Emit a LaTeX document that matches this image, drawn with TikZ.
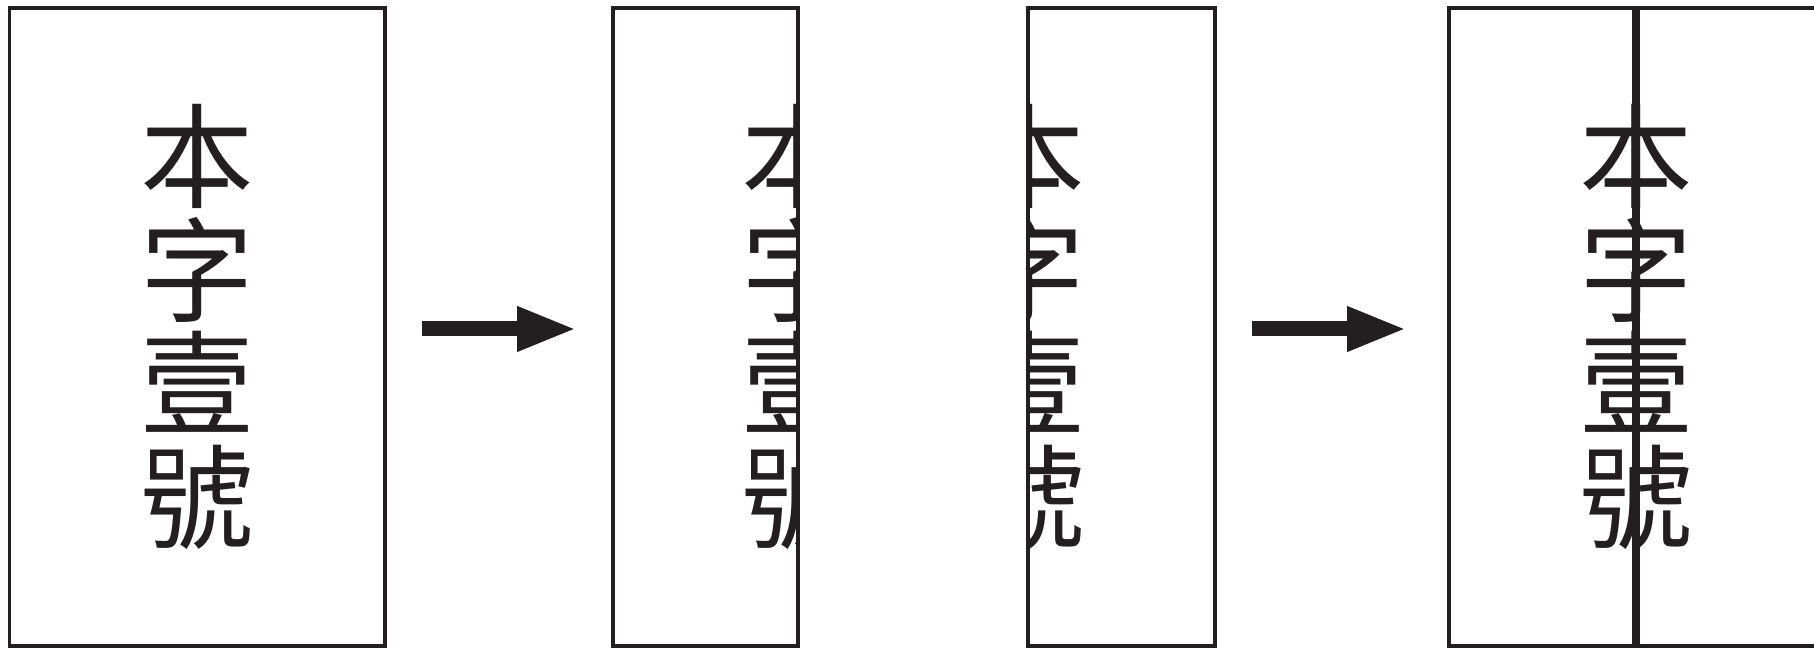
\documentclass[tikz,border=0pt]{standalone}
\usepackage{fontspec}
\newfontfamily\cjk{Noto Sans CJK TC}
\usetikzlibrary{arrows.meta}
\definecolor{ink}{RGB}{35,31,32}
\tikzset{
  panel/.style={draw=ink, line width=0.04cm, minimum width=#1, minimum height=6.38cm, inner sep=0pt},
  zi/.style={text=ink, font=\cjk\fontsize{32.3pt}{32.3pt}\selectfont, align=center, inner sep=0pt},
  bigarrow/.style={draw=ink, line width=0.15cm, -{Triangle[length=0.60cm,width=0.41cm]}}
}
\begin{document}
\begin{tikzpicture}
\useasboundingbox (0,0) rectangle (18.14,6.47);
% whole
\node[zi] (t1) at (1.97,3.20) {本\\字\\壹\\號};
\node[panel=3.75cm] (p1) at (1.97,3.20) {};
\coordinate (a1s) at (4.22,3.18);
\coordinate (a1e) at (5.77,3.18);
\path[bigarrow] (a1s) -- (a1e);
% left half
\begin{scope}
\clip (6.13,0) rectangle (7.98,6.47);
\node[zi] (t2) at (7.98,3.20) {本\\字\\壹\\號};
\end{scope}
\node[panel=1.85cm] (p2) at (7.055,3.20) {};
% right half
\begin{scope}
\clip (10.28,0) rectangle (12.15,6.47);
\node[zi] (t3) at (10.28,3.20) {本\\字\\壹\\號};
\end{scope}
\node[panel=1.87cm] (p3) at (11.215,3.20) {};
\coordinate (a2s) at (12.52,3.18);
\coordinate (a2e) at (14.07,3.18);
\path[bigarrow] (a2s) -- (a2e);
% joined
\node[zi] (t4) at (16.36,3.20) {本\\字\\壹\\號};
\node[panel=3.75cm] (p4) at (16.36,3.20) {};
\path[draw=ink, line width=0.08cm] (p4.north -| t4.center) -- (p4.south -| t4.center);
\end{tikzpicture}
\end{document}
